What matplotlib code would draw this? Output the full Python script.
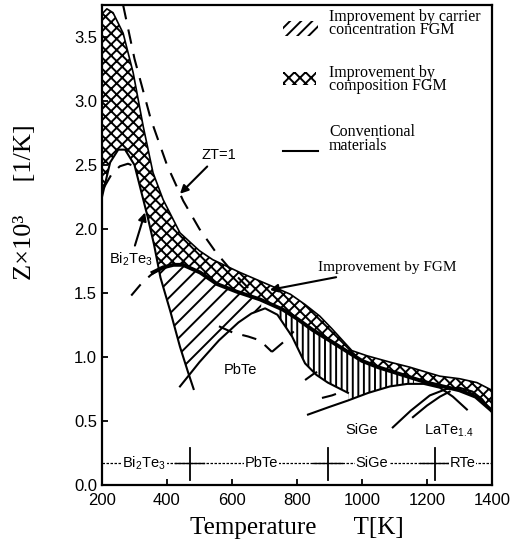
import numpy as np
import matplotlib
matplotlib.use("Agg")
import matplotlib.pyplot as plt
from matplotlib.patches import Rectangle

plt.rcParams["font.family"] = ["Liberation Sans", "DejaVu Sans"]
plt.rcParams["mathtext.fontset"] = "custom"
plt.rcParams["mathtext.rm"] = "Liberation Sans"
plt.rcParams["mathtext.default"] = "regular"
plt.rcParams["hatch.linewidth"] = 1.4

# upper edge of composition-FGM improvement (cross hatched band)
T_fgm = [200, 215, 234, 265, 296, 327, 357, 388, 440, 500, 541, 625, 726, 780,
         825, 870, 908, 969, 1015, 1086, 1148, 1200, 1240, 1301, 1354, 1400]
Z_fgm = [3.68, 3.72, 3.69, 3.53, 3.22, 2.80, 2.44, 2.23, 1.97, 1.83, 1.76, 1.66,
         1.55, 1.49, 1.41, 1.32, 1.22, 1.05, 1.01, 0.96, 0.92, 0.88, 0.85, 0.83,
         0.80, 0.74]

# carrier-concentration FGM envelope (thick line)
T_env = [356, 388, 420, 449, 502, 554, 615, 686, 757, 800, 849, 900, 950, 1000,
         1050, 1100, 1150, 1200, 1250, 1300, 1350, 1400]
Z_env = [1.66, 1.70, 1.72, 1.72, 1.66, 1.57, 1.51, 1.45, 1.37, 1.30, 1.21, 1.13,
         1.05, 0.97, 0.92, 0.88, 0.84, 0.80, 0.77, 0.74, 0.69, 0.58]

# conventional materials
T_bite = [200, 225, 250, 271, 300, 320, 340, 360, 380, 410, 440, 465, 482]
Z_bite = [2.25, 2.52, 2.62, 2.62, 2.50, 2.30, 2.10, 1.88, 1.62, 1.36, 1.08, 0.88, 0.75]

T_pbte = [440, 500, 560, 620, 660, 702, 740, 785, 825, 860, 895, 957]
Z_pbte = [0.77, 0.96, 1.13, 1.27, 1.34, 1.38, 1.33, 1.16, 0.95, 0.86, 0.80, 0.72]

T_sige = [834, 900, 957, 1020, 1086, 1140, 1190, 1240, 1280, 1323]
Z_sige = [0.55, 0.61, 0.66, 0.72, 0.77, 0.79, 0.79, 0.76, 0.69, 0.59]

T_late = [1095, 1150, 1209, 1260, 1300, 1340, 1370, 1400]
Z_late = [0.45, 0.58, 0.70, 0.75, 0.76, 0.73, 0.67, 0.57]

T_late2 = [1157, 1200, 1240, 1270]
Z_late2 = [0.53, 0.62, 0.69, 0.73]

# other doping levels (dashed)
T_zt1 = [265, 300, 350, 400, 450, 500, 550, 600, 650]
Z_zt1 = [3.75, 3.33, 2.86, 2.50, 2.22, 2.00, 1.82, 1.67, 1.54]

T_d_bite = [205, 230, 255, 280, 300]
Z_d_bite = [2.32, 2.43, 2.49, 2.51, 2.49]

T_d_pb1 = [290, 320, 350, 380]
Z_d_pb1 = [1.48, 1.57, 1.64, 1.69]

T_d_pb2 = [560, 603, 650, 686, 723]
Z_d_pb2 = [1.24, 1.19, 1.16, 1.13, 1.04]

T_d_pb3 = [723, 760, 790]
Z_d_pb3 = [1.04, 1.12, 1.20]

T_d_si1 = [825, 855, 880]
Z_d_si1 = [0.82, 0.875, 0.90]

T_d_si2 = [877, 908, 940]
Z_d_si2 = [0.68, 0.70, 0.73]

# range bar at the bottom
bar_ticks = [470, 895, 1225]
bar_labels = ["Bi$_2$Te$_3$", "PbTe", "SiGe", "RTe"]
bar_label_T = [330, 690, 1030, 1310]

fig = plt.figure(figsize=(5.11, 5.50), dpi=100)
ax = fig.add_axes([0.1996, 0.1182, 0.763, 0.8727])

grid = np.linspace(200, 1400, 1201)
up = np.interp(grid, T_fgm, Z_fgm)
env = np.interp(grid, T_env, Z_env, left=-1)
bite = np.interp(grid, T_bite, Z_bite, left=-1, right=-1)
pbte = np.interp(grid, T_pbte, Z_pbte, left=-1, right=-1)
sige = np.interp(grid, T_sige, Z_sige, left=-1, right=-1)
low = np.maximum(env, bite)

# composition FGM (cross hatched)
ax.fill_between(grid, low, up, facecolor="none", edgecolor="black",
                linewidth=0, hatch="xxx")

# carrier concentration FGM (hatched)
base = np.maximum(np.maximum(bite, pbte), sige)
m1 = (grid >= 356) & (grid <= 690) & (env > base)
ax.fill_between(grid, base, env, where=m1, facecolor="none", edgecolor="black",
                linewidth=0, hatch="//")
m2 = (grid >= 740) & (grid <= 1160) & (env > base)
ax.fill_between(grid, base, env, where=m2, facecolor="none", edgecolor="black",
                linewidth=0, hatch="|||")

ax.plot(T_fgm, Z_fgm, color="black", lw=1.2)
ax.plot(T_env, Z_env, color="black", lw=2.8)
for t, z in [(T_bite, Z_bite), (T_pbte, Z_pbte), (T_sige, Z_sige),
             (T_late, Z_late), (T_late2, Z_late2)]:
    ax.plot(t, z, color="black", lw=1.5)

for t, z in [(T_zt1, Z_zt1), (T_d_bite, Z_d_bite), (T_d_pb1, Z_d_pb1),
             (T_d_pb2, Z_d_pb2), (T_d_pb3, Z_d_pb3), (T_d_si1, Z_d_si1),
             (T_d_si2, Z_d_si2)]:
    ax.plot(t, z, color="black", lw=1.5, dashes=(7, 5))

# range bar
ax.plot([200, 1400], [0.17, 0.17], color="black", lw=0.9, dashes=(2, 1.2))
for t in bar_ticks:
    ax.plot([t - 45, t + 45], [0.17, 0.17], color="black", lw=1.0)
    ax.plot([t, t], [0.04, 0.29], color="black", lw=1.3)
for t, lab in zip(bar_label_T, bar_labels):
    ax.text(t, 0.17, lab, ha="center", va="center", fontsize=10.5,
            bbox=dict(facecolor="white", edgecolor="none", pad=0.5))

# annotations
arrow = dict(arrowstyle="-|>", color="black", lw=1.5, mutation_scale=12)
ax.annotate("ZT=1", xy=(434, 2.26), xytext=(560, 2.58), ha="center",
            va="center", fontsize=10.5, arrowprops=arrow)
ax.annotate("Bi$_2$Te$_3$", xy=(335, 2.15), xytext=(288, 1.76), ha="center",
            va="center", fontsize=10.5, arrowprops=arrow)
ax.annotate("Improvement by FGM", xy=(708, 1.52), xytext=(1078, 1.70),
            ha="center", va="center", fontsize=11, family="Liberation Serif",
            arrowprops=arrow)
ax.text(625, 0.90, "PbTe", ha="center", va="center", fontsize=10.5)
ax.text(1000, 0.43, "SiGe", ha="center", va="center", fontsize=10.5)
ax.text(1268, 0.42, "LaTe$_{1.4}$", ha="center", va="center", fontsize=10.5)

# legend drawn by hand
ax.add_patch(Rectangle((0.464, 0.935), 0.09, 0.032, transform=ax.transAxes,
                       facecolor="none", edgecolor="black", lw=0, hatch="///"))
ax.text(0.582, 0.992, "Improvement by carrier\nconcentration FGM",
        transform=ax.transAxes, va="top", fontsize=11.5,
        family="Liberation Serif", linespacing=0.8)
ax.add_patch(Rectangle((0.464, 0.833), 0.085, 0.028, transform=ax.transAxes,
                       facecolor="none", edgecolor="black", lw=0, hatch="xxx"))
ax.text(0.582, 0.876, "Improvement by\ncomposition FGM",
        transform=ax.transAxes, va="top", fontsize=11.5,
        family="Liberation Serif", linespacing=0.8)
ax.plot([0.464, 0.554], [0.695, 0.695], transform=ax.transAxes,
        color="black", lw=1.5)
ax.text(0.582, 0.752, "Conventional\nmaterials",
        transform=ax.transAxes, va="top", fontsize=11.5,
        family="Liberation Serif", linespacing=0.8)

ax.set_xlim(200, 1400)
ax.set_ylim(0, 3.75)
ax.set_xticks(range(200, 1401, 200))
ax.set_yticks(np.arange(0, 3.6, 0.5))
ax.set_yticklabels([f"{v:.1f}" for v in np.arange(0, 3.6, 0.5)])
ax.tick_params(direction="in", length=4, width=1.3, labelsize=12)
ax.tick_params(axis="x", pad=6)
for s in ax.spines.values():
    s.set_linewidth(1.6)

ax.set_xlabel("Temperature      T[K]", family="Liberation Serif", fontsize=18,
              labelpad=6)
ax.set_ylabel("Z×10³     [1/K]", family="Liberation Serif", fontsize=19)
ax.yaxis.set_label_coords(-0.17, 0.59)

fig.savefig("out.png", dpi=100)
